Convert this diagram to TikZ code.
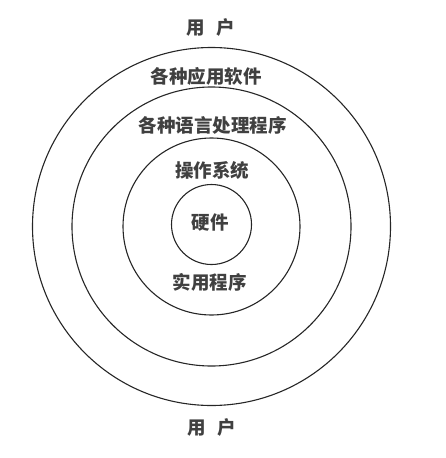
\documentclass[tikz,border=0pt]{standalone}
\usepackage{fontspec}
\newfontfamily\cjk{Noto Sans CJK SC}
\begin{document}
\begin{tikzpicture}[x=1pt,y=-1pt,
  ring/.style={draw=black!85,line width=1.1pt},
  lbl/.style={font=\cjk\bfseries\fontsize{18.5}{21}\selectfont,text=black!75,inner sep=0pt}]
\useasboundingbox (0,0) rectangle (446,458);
\coordinate (c) at (211.5,226.5);
\draw[ring] (c) circle[radius=179];
\draw[ring] (c) circle[radius=139.5];
\draw[ring] (c) circle[radius=88.5];
\draw[ring] (211.5,224.5) circle[radius=40];
\node[lbl] (u1) at (211,27) {用\hspace{0.6em}户};
\node[lbl] (u2) at (212,427) {用\hspace{0.6em}户};
\node[lbl] (app) at (206,76) {各种应用软件};
\node[lbl] (lang) at (212.5,125) {各种语言处理程序};
\node[lbl] (os) at (212,170) {操作系统};
\node[lbl] (hw) at (210,223) {硬件};
\node[lbl] (util) at (209.5,282) {实用程序};
\end{tikzpicture}
\end{document}
